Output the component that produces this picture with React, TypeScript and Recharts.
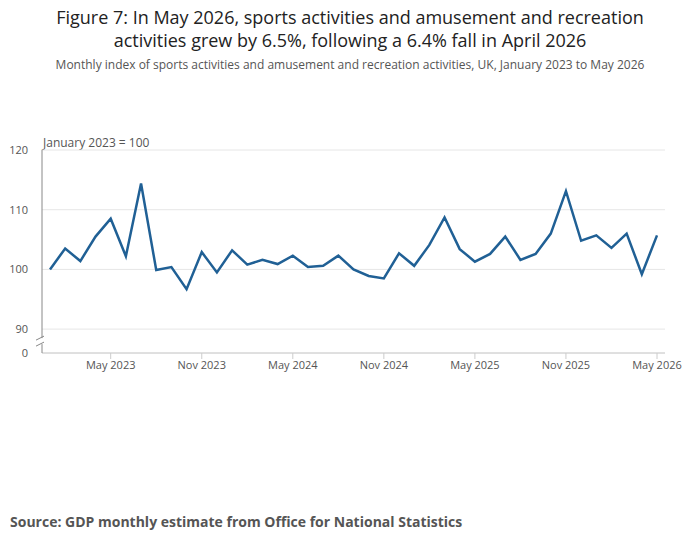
import React from 'react';
import { LineChart, Line, XAxis, YAxis, CartesianGrid } from 'recharts';

const startYear = 2023;
const monthNames = ['Jan', 'Feb', 'Mar', 'Apr', 'May', 'Jun', 'Jul', 'Aug', 'Sep', 'Oct', 'Nov', 'Dec'];

const values = [
  100, 103.5, 101.4, 105.5, 108.5, 102.2, 114.4, 99.9, 100.4, 96.7, 102.9, 99.5,
  103.2, 100.8, 101.6, 100.9, 102.3, 100.4, 100.6, 102.3, 100.0, 98.9, 98.5, 102.7,
  100.6, 104.1, 108.7, 103.4, 101.3, 102.6, 105.5, 101.6, 102.6, 106.0, 113.1, 104.8,
  105.7, 103.6, 106.0, 99.2, 105.7,
];

const xTicks = [4, 10, 16, 22, 28, 34, 40];
const yTicks = [86, 90, 100, 110, 120];

const data = values.map((v, i) => ({ i, value: v }));

const monthLabel = (i: number) =>
  `${monthNames[i % 12]} ${startYear + Math.floor(i / 12)}`;

const YTick = (props: any) => {
  const { x, y, payload } = props;
  const label = payload.value === 86 ? '0' : String(payload.value);
  return (
    <g>
      <text x={x - 6} y={y + 4} textAnchor="end" fontSize={11} fill="#555">{label}</text>
      {payload.value === 90 && (
        <g stroke="#888" strokeWidth={1}>
          <rect x={x + 2} y={y + 9} width={8} height={6} fill="#fff" stroke="none" />
          <line x1={x + 2} y1={y + 11} x2={x + 10} y2={y + 7} />
          <line x1={x + 2} y1={y + 17} x2={x + 10} y2={y + 13} />
        </g>
      )}
    </g>
  );
};

export default function App() {
  return (
    <div style={{ position: 'absolute', left: 0, top: 0, width: 700, height: 549, background: '#fff', fontFamily: '"Open Sans", sans-serif' }}>
      <div style={{ position: 'absolute', top: 6, width: 700, textAlign: 'center', fontSize: 18, color: '#222', lineHeight: '23px' }}>
        Figure 7: In May 2026, sports activities and amusement and recreation<br />
        activities grew by 6.5%, following a 6.4% fall in April 2026
      </div>
      <div style={{ position: 'absolute', top: 56, width: 700, textAlign: 'center', fontSize: 12, color: '#555' }}>
        Monthly index of sports activities and amusement and recreation activities, UK, January 2023 to May 2026
      </div>
      <div style={{ position: 'absolute', top: 134, left: 43, fontSize: 12, color: '#555' }}>January 2023 = 100</div>
      <div style={{ position: 'absolute', top: 100, left: 8 }}>
        <LineChart width={680} height={293} data={data} margin={{ top: 50, right: 23, bottom: 0, left: 0 }}>
          <CartesianGrid vertical={false} stroke="#e6e6e6" />
          <XAxis
            dataKey="i"
            type="number"
            domain={[0, 40]}
            ticks={xTicks}
            padding={{ left: 8, right: 8 }}
            tickFormatter={monthLabel}
            tick={{ fontSize: 11, fill: '#555' }}
            stroke="#ccc"
            tickSize={6}
            height={40}
          />
          <YAxis
            domain={[86, 120]}
            ticks={yTicks}
            tick={<YTick />}
            width={34}
            axisLine={{ stroke: '#888' }}
            tickLine={false}
            interval={0}
          />
          <Line
            dataKey="value"
            stroke="#206095"
            strokeWidth={2.5}
            dot={false}
            isAnimationActive={false}
          />
        </LineChart>
      </div>
      <div style={{ position: 'absolute', top: 512, left: 10, fontSize: 14, fontWeight: 700, color: '#555' }}>
        Source: GDP monthly estimate from Office for National Statistics
      </div>
    </div>
  );
}
